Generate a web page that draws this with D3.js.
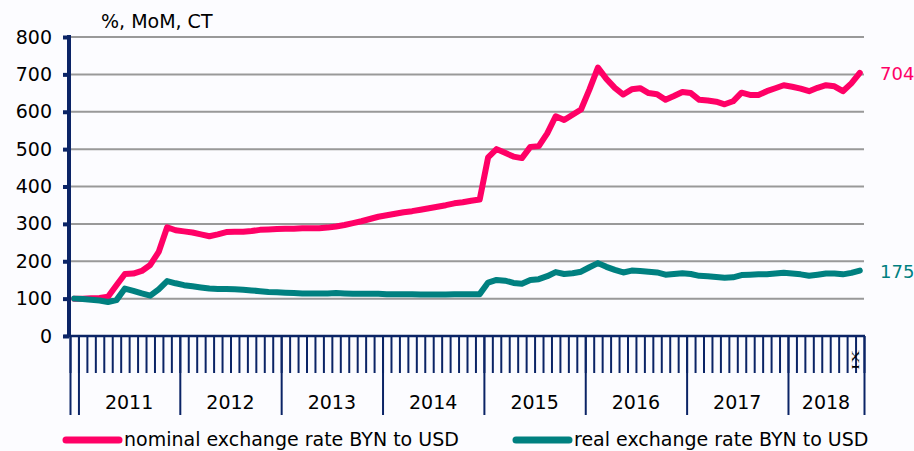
<!DOCTYPE html>
<meta charset="utf-8">
<style>
body { margin: 0; background: #fcfcff; }
text { font-family: "DejaVu Sans", Verdana, sans-serif; fill: #000; }
.grid line { stroke: #999; stroke-width: 2; }
.line { fill: none; stroke-width: 6; stroke-linejoin: round; stroke-linecap: round; }
</style>
<body>
<script src="https://cdn.jsdelivr.net/npm/d3@7"></script>
<script>
// months: Dec 2010 .. Sep 2018
var months = ["2010-12"];
[2011, 2012, 2013, 2014, 2015, 2016, 2017].forEach(function(y) {
  for (var m = 1; m <= 12; m++) months.push(y + "-" + m);
});
for (var m = 1; m <= 9; m++) months.push("2018-" + m);

var yearLabels = ["2011", "2012", "2013", "2014", "2015", "2016", "2017", "2018"];
var yTicks = [0, 100, 200, 300, 400, 500, 600, 700, 800];

// nominal exchange rate BYN to USD, Dec 2010 = 100
var nominal = [
  100, 100, 101, 102, 105, 136, 166, 167, 174, 190, 225, 291, 283,
  280, 277, 272, 267, 272, 278, 279, 279, 281, 284, 285, 286,
  287, 287, 288, 288, 288, 290, 293, 297, 302, 307, 313, 319,
  323, 327, 331, 334, 338, 342, 346, 350, 355, 358, 362, 365,
  478, 500, 490, 480, 476, 506, 508, 542, 588, 578, 592, 606,
  660, 718, 688, 664, 646, 660, 663, 650, 647, 632, 642, 653,
  650, 632, 630, 627, 620, 628, 651, 645, 645, 655, 663, 671,
  667, 662, 655, 664, 671, 668, 655, 676, 704
];
// real exchange rate BYN to USD
var real = [
  100, 99, 97, 95, 91, 96, 127, 121, 114, 108, 125, 147, 141,
  136, 133, 130, 127, 126, 126, 125, 124, 122, 120, 118, 117,
  116, 115, 114, 114, 114, 114, 115, 114, 113, 113, 113, 113,
  112, 112, 112, 112, 111, 111, 111, 111, 112, 112, 112, 112,
  143, 150, 148, 142, 140, 150, 152, 160, 171, 166, 168, 172,
  184, 195, 185, 177, 170, 175, 174, 172, 170, 164, 166, 168,
  166, 161, 160, 158, 156, 157, 163, 164, 165, 165, 167, 169,
  167, 165, 161, 164, 167, 167, 165, 169, 175
];

var W = 914, H = 451;
var axisColor = "#0b2466", pink = "#ff0066", teal = "#008080";
var plotL = 70, plotR = 864, plotT = 37, plotB = 336;

var svg = d3.select("body").append("svg").attr("width", W).attr("height", H);

var x = d3.scaleBand().domain(months).range([plotL, plotR]).padding(0);
var xi = d3.scaleLinear().domain([0, months.length]).range([plotL, plotR]);
var y = d3.scaleLinear().domain([0, 800]).range([plotB, plotT]);

// gridlines
svg.append("g").attr("class", "grid")
  .selectAll("line").data(yTicks.slice(1)).enter().append("line")
    .attr("x1", plotL).attr("x2", plotR)
    .attr("y1", function(d) { return y(d); })
    .attr("y2", function(d) { return y(d); });

// lines
var line = d3.line()
  .x(function(d, i) { return x(months[i]) + x.bandwidth() / 2; })
  .y(function(d) { return y(d); });

svg.append("path").datum(nominal).attr("class", "line").attr("stroke", pink).attr("d", line);
svg.append("path").datum(real).attr("class", "line").attr("stroke", teal).attr("d", line);

// x axis: month ticks
var gx = svg.append("g").attr("transform", "translate(0," + plotB + ")")
  .call(d3.axisBottom(xi).tickValues(d3.range(months.length + 1)).tickSize(37).tickFormat(""));
gx.select(".domain").remove();
gx.selectAll("line").attr("stroke", axisColor).attr("stroke-width", 2);

// year boundaries
var yearStarts = [0];
months.forEach(function(m, i) { if (/-1$/.test(m)) yearStarts.push(i); });
yearStarts.push(months.length);
var gx2 = svg.append("g").attr("transform", "translate(0," + plotB + ")")
  .call(d3.axisBottom(xi).tickValues(yearStarts).tickSize(79).tickFormat(""));
gx2.select(".domain").remove();
gx2.selectAll("line").attr("stroke", axisColor).attr("stroke-width", 2);

svg.append("line").attr("x1", 64).attr("x2", plotR + 1).attr("y1", plotB).attr("y2", plotB)
  .attr("stroke", axisColor).attr("stroke-width", 2.5);

// year labels
svg.selectAll(".yl").data(yearLabels).enter().append("text")
  .attr("x", function(d, i) { return (xi(yearStarts[i + 1]) + xi(yearStarts[i + 2])) / 2; })
  .attr("y", 409)
  .attr("text-anchor", "middle")
  .style("font-size", "19px")
  .text(function(d) { return d; });

// IX label for the last month
svg.append("text")
  .attr("transform", "translate(" + (x(months[months.length - 1]) + 3.5) + ",350) rotate(-90) scale(1.45,0.75)")
  .attr("text-anchor", "end")
  .style("font-family", "'Liberation Serif', serif")
  .style("font-size", "13px")
  .text("IX");

// y axis
var gy = svg.append("g").attr("transform", "translate(69,0)")
  .call(d3.axisLeft(y).tickValues(yTicks).tickSize(6).tickPadding(11));
gy.select(".domain").attr("stroke", axisColor).attr("stroke-width", 4)
  .attr("d", "M0," + (plotT - 2) + "V" + plotB);
gy.selectAll("line").attr("stroke", axisColor).attr("stroke-width", 4);
gy.selectAll("text").style("font-size", "19px").style("font-family", "DejaVu Sans").attr("fill", "#000");

svg.append("text").attr("x", 101).attr("y", 28).style("font-size", "19px").text("%, MoM, CT");

// end value labels
svg.append("text").attr("x", 880).attr("y", y(nominal[nominal.length - 1]) + 7)
  .style("font-size", "18px").style("fill", pink).text(nominal[nominal.length - 1]);
svg.append("text").attr("x", 880).attr("y", y(real[real.length - 1]) + 7)
  .style("font-size", "18px").style("fill", teal).text(real[real.length - 1]);

// legend
var legend = [
  {name: "nominal exchange rate BYN to USD", color: pink, x: 66},
  {name: "real exchange rate BYN to USD", color: teal, x: 516}
];
var lg = svg.selectAll(".lg").data(legend).enter().append("g");
lg.append("line")
  .attr("x1", function(d) { return d.x; }).attr("x2", function(d) { return d.x + 53; })
  .attr("y1", 440).attr("y2", 440)
  .attr("stroke", function(d) { return d.color; })
  .attr("stroke-width", 7).attr("stroke-linecap", "round");
lg.append("text")
  .attr("x", function(d) { return d.x + 58; }).attr("y", 446)
  .style("font-size", "19px")
  .text(function(d) { return d.name; });
</script>
</body>
